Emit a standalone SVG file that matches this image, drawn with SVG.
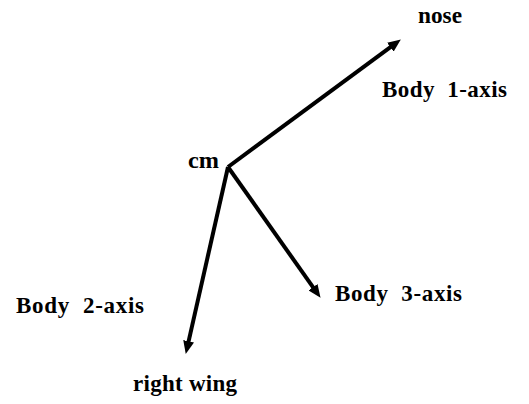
<svg xmlns="http://www.w3.org/2000/svg" width="529" height="404" viewBox="0 0 529 404">
<style>
text{font-family:"Liberation Serif","Times New Roman",serif;font-weight:bold;font-size:23px;fill:#000;white-space:pre}
.ax{stroke:#000;stroke-width:4;fill:none;stroke-linecap:butt;marker-end:url(#ah)}
</style>
<defs>
<marker id="ah" markerUnits="userSpaceOnUse" markerWidth="13" markerHeight="11" refX="6" refY="5.5" orient="auto">
<path d="M0,0 L13,5.5 L0,11 z" fill="#000"/>
</marker>
</defs>
<rect width="529" height="404" fill="#fff"/>
<g id="connectors">
<path class="ax" d="M228,167 L395.2,43.6"/>
<path class="ax" d="M228,167 L316.5,292.1"/>
<path class="ax" d="M228,167 L187.3,347.1"/>
</g>
<g id="cm"><text x="188" y="168" textLength="31" lengthAdjust="spacingAndGlyphs">cm</text></g>
<g id="nose"><text x="418" y="23" textLength="44" lengthAdjust="spacingAndGlyphs">nose</text></g>
<g id="body1"><text x="382" y="97" textLength="125" lengthAdjust="spacing">Body  1-axis</text></g>
<g id="body3"><text x="335" y="301" textLength="127" lengthAdjust="spacing">Body  3-axis</text></g>
<g id="body2"><text x="16" y="313" textLength="128" lengthAdjust="spacing">Body  2-axis</text></g>
<g id="rightwing"><text x="133" y="391" textLength="104" lengthAdjust="spacing">right wing</text></g>
</svg>
